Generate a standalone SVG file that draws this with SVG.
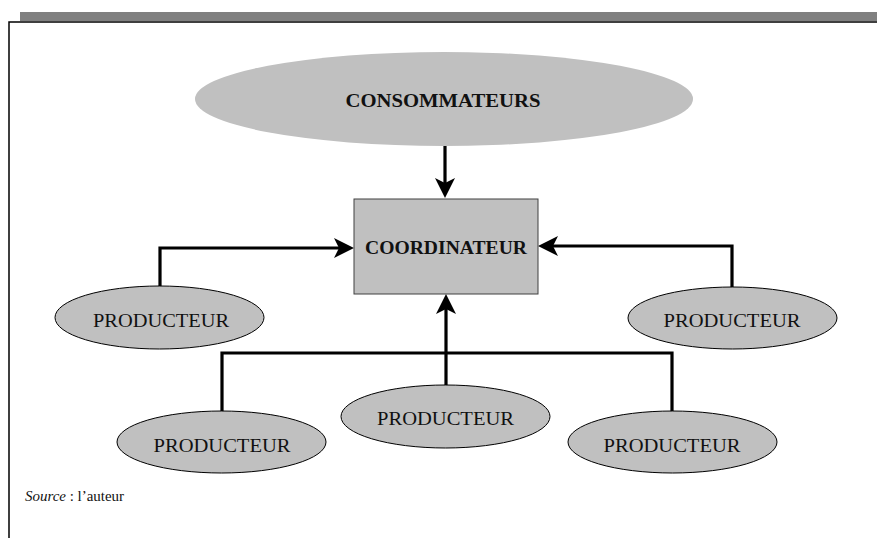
<svg xmlns="http://www.w3.org/2000/svg" width="877" height="538" viewBox="0 0 877 538">
<style>
.node{fill:#c0c0c0}
.prod{fill:#c0c0c0;stroke:#000;stroke-width:1}
.lbl{font-family:"Liberation Serif",serif;fill:#111;text-anchor:middle}
.b{font-weight:bold;font-size:18px}
.r{font-size:18px}
.conn{fill:none;stroke:#000;stroke-width:3.2}
</style>
<defs>
<marker id="arr" viewBox="0 0 20 20" refX="15" refY="10" markerWidth="20" markerHeight="20" markerUnits="userSpaceOnUse" orient="auto">
<path d="M0,0 L20,10 L0,20 L5,10 z" fill="#000"/>
</marker>
</defs>
<rect x="0" y="0" width="877" height="538" fill="#fff"/>
<rect x="20" y="12" width="857" height="9" fill="#808080"/>
<path d="M9,538 V22 H877" fill="none" stroke="#000" stroke-width="1.5"/>

<g id="connectors">
<path class="conn" d="M445,146 V193" marker-end="url(#arr)"/>
<path class="conn" d="M160,286 V248 H349" marker-end="url(#arr)"/>
<path class="conn" d="M732,287 V246 H543" marker-end="url(#arr)"/>
<path class="conn" d="M446,385 V299" marker-end="url(#arr)"/>
<path class="conn" d="M222,412 V353 H672 V412"/>
</g>

<g id="consommateurs">
<ellipse class="node" cx="444" cy="99" rx="249" ry="47"/>
<text class="lbl b" x="443" y="107" textLength="195" lengthAdjust="spacingAndGlyphs">CONSOMMATEURS</text>
</g>

<g id="coordinateur">
<rect x="354" y="199" width="184" height="95" fill="#c0c0c0" stroke="#404040" stroke-width="1"/>
<text class="lbl b" x="446" y="254" textLength="162" lengthAdjust="spacingAndGlyphs">COORDINATEUR</text>
</g>

<g id="producteur-left">
<ellipse class="prod" cx="159.5" cy="317.5" rx="104.5" ry="31.5"/>
<text class="lbl r" x="161" y="327" textLength="136" lengthAdjust="spacingAndGlyphs">PRODUCTEUR</text>
</g>

<g id="producteur-right">
<ellipse class="prod" cx="732.5" cy="318" rx="104.5" ry="31"/>
<text class="lbl r" x="732" y="327" textLength="137" lengthAdjust="spacingAndGlyphs">PRODUCTEUR</text>
</g>

<g id="producteur-middle">
<ellipse class="prod" cx="445.5" cy="416.5" rx="104.5" ry="31.5"/>
<text class="lbl r" x="445.5" y="425" textLength="137" lengthAdjust="spacingAndGlyphs">PRODUCTEUR</text>
</g>

<g id="producteur-bottom-left">
<ellipse class="prod" cx="221.5" cy="442" rx="104.5" ry="31"/>
<text class="lbl r" x="222" y="452" textLength="137" lengthAdjust="spacingAndGlyphs">PRODUCTEUR</text>
</g>

<g id="producteur-bottom-right">
<ellipse class="prod" cx="672.5" cy="442" rx="104.5" ry="31"/>
<text class="lbl r" x="672" y="452" textLength="137" lengthAdjust="spacingAndGlyphs">PRODUCTEUR</text>
</g>

<text x="25" y="501" font-family="'Liberation Serif',serif" font-size="14" fill="#111" textLength="99" lengthAdjust="spacingAndGlyphs"><tspan font-style="italic">Source</tspan> : l’auteur</text>
</svg>
